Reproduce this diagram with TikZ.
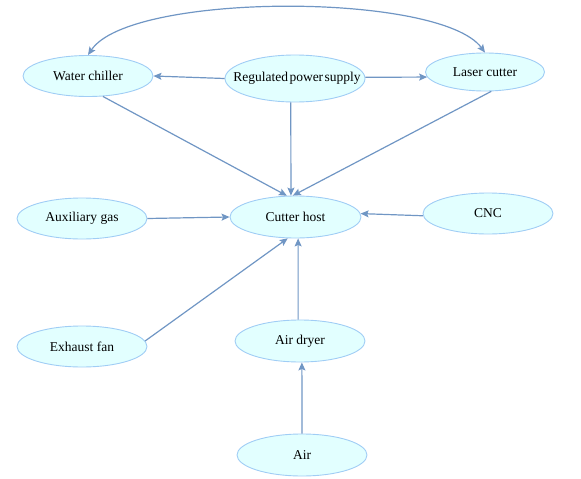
\documentclass[tikz,border=0pt]{standalone}
\usepackage{fontspec}
\setmainfont{Liberation Serif}
\usetikzlibrary{arrows.meta,shapes.geometric}
\definecolor{edgeblue}{RGB}{112,150,196}
\definecolor{rimblue}{RGB}{160,205,245}
\definecolor{fillcyan}{RGB}{226,255,255}
\tikzset{
  part/.style={ellipse, draw=rimblue, fill=fillcyan, line width=0.9pt, inner sep=0pt,
    minimum width=130pt, minimum height=41pt, font=\fontsize{13.5}{16}\selectfont},
  link/.style={draw=edgeblue, line width=1.2pt, -{Stealth[length=8pt,width=7pt,inset=1.5pt]}}
}
\begin{document}
\begin{tikzpicture}[x=1pt, y=-1pt]
\useasboundingbox (0,0) rectangle (581,479);
\node[part] (wc) at (88,76) {Water chiller};
\node[part, minimum width=140pt, minimum height=47pt] (reg) at (295,78.5) {\makebox[0pt]{\hspace{4pt}Regulated\hspace{1.5pt}power\hspace{1.5pt}supply}};
\node[part, minimum width=119pt, minimum height=38pt] (laser) at (485,72) {Laser cutter};
\node[part] (aux) at (82,218.5) {Auxiliary gas};
\node[part, minimum width=131pt, minimum height=42pt] (host) at (295.5,217) {Cutter host};
\node[part] (cnc) at (488,213.5) {CNC};
\node[part] (fan) at (82,346.5) {Exhaust fan};
\node[part, minimum height=42pt] (dryer) at (300,341) {Air dryer};
\node[part, minimum height=42pt] (air) at (302,455) {Air};
\draw[link] (reg.west) -- (wc.east);
\draw[link] (reg.1) -- (laser.185);
\draw[link, {Stealth[length=8pt,width=7pt,inset=1.5pt]}-{Stealth[length=8pt,width=7pt,inset=1.5pt]}]
  (wc.north) .. controls (130,-8) and (440,-8) .. (laser.north);
\draw[link] (wc.-54) -- (host.112);
\draw[link] (reg.-100) -- (host.102);
\draw[link] (laser.-72) -- (host.97);
\draw[link] (aux.east) -- (host.west);
\draw[link] (cnc.182) -- (host.3);
\draw[link] (fan.5) -- (host.-110);
\draw[link] (dryer.95) -- (host.-83);
\draw[link] (air.north) -- (dryer.-85);
\end{tikzpicture}
\end{document}
